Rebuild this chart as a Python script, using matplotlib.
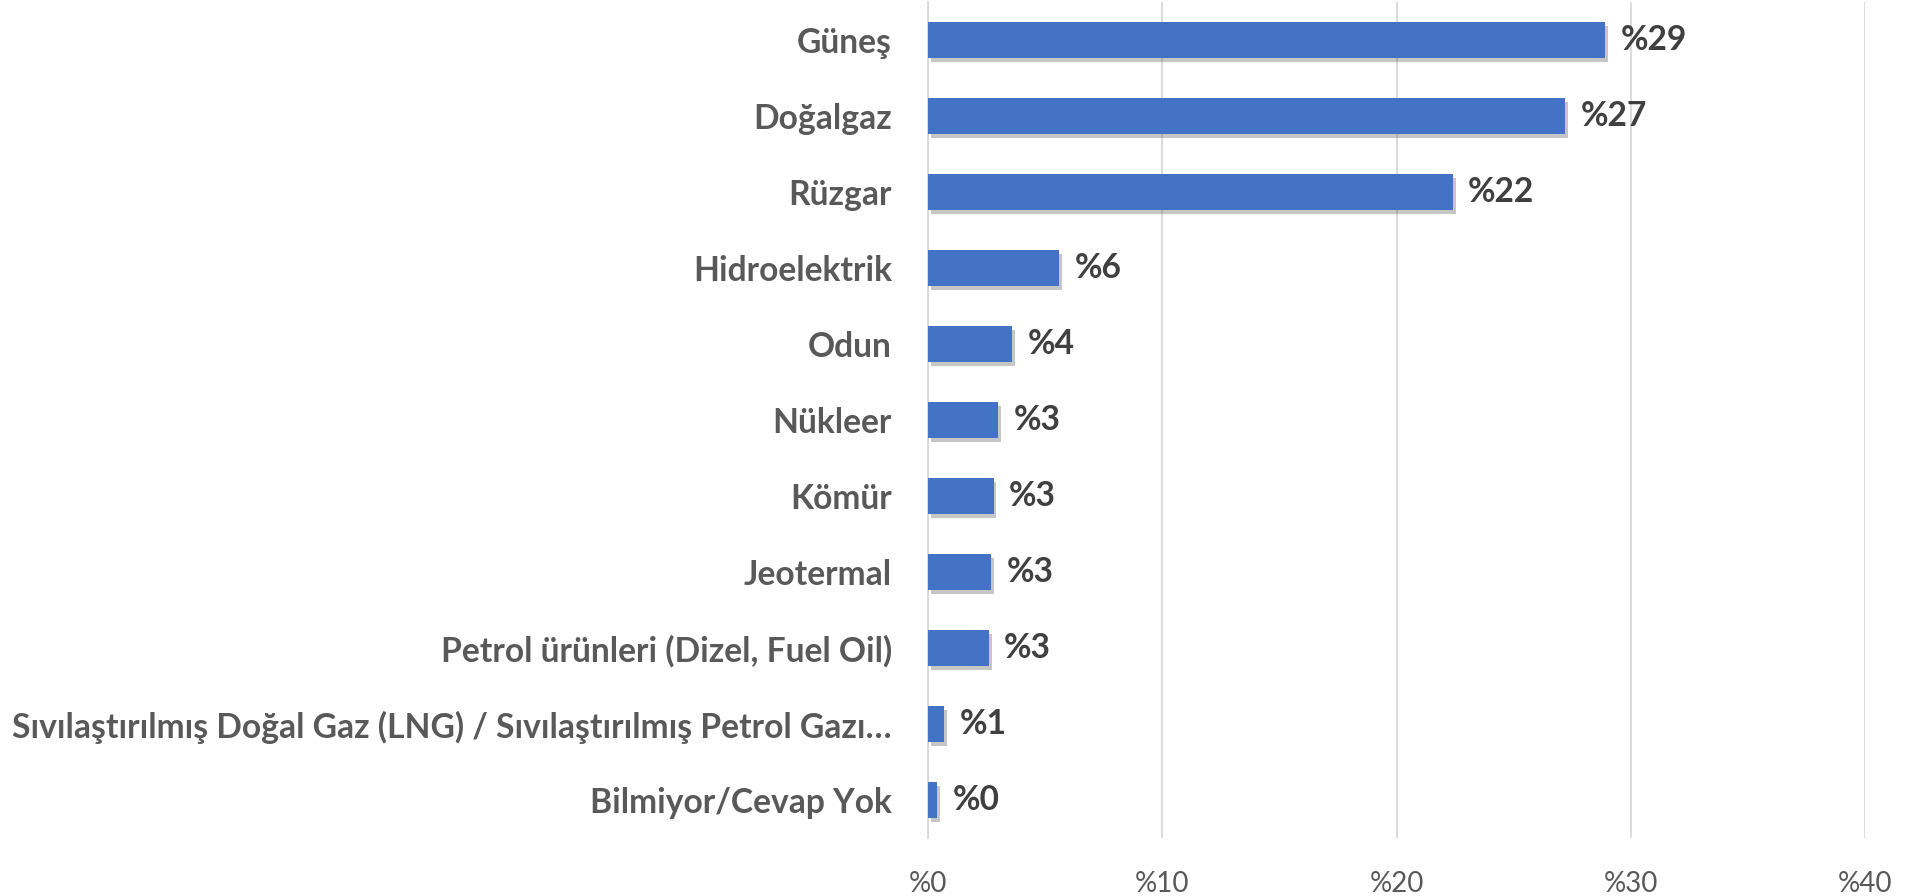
import matplotlib

matplotlib.use("Agg")
import matplotlib.pyplot as plt
import matplotlib.patheffects as pe

# Energy source shares (%), top to bottom
sources = [
    "Güneş",
    "Doğalgaz",
    "Rüzgar",
    "Hidroelektrik",
    "Odun",
    "Nükleer",
    "Kömür",
    "Jeotermal",
    "Petrol ürünleri (Dizel, Fuel Oil)",
    "Sıvılaştırılmış Doğal Gaz (LNG) / Sıvılaştırılmış Petrol Gazı…",
    "Bilmiyor/Cevap Yok",
]
shares = [28.9, 27.2, 22.4, 5.6, 3.6, 3.0, 2.8, 2.7, 2.6, 0.7, 0.4]
xticks = [0, 10, 20, 30, 40]

BAR = "#4472C4"
GRID = "#D9D9D9"
TEXT = "#595959"
LABEL = "#404040"

plt.rcParams["font.family"] = ["Lato", "DejaVu Sans"]

fig = plt.figure(figsize=(19.08, 8.96), dpi=100)
ax = fig.add_axes([0.4864, 0.0647, 0.4911, 0.9333])

y = list(range(len(sources)))
bars = ax.barh(y, shares, height=0.47, color=BAR, zorder=3)
for b in bars:
    b.set_path_effects([pe.SimplePatchShadow(offset=(2, -3), alpha=0.3, shadow_rgbFace="#444444"),
                        pe.Normal()])

ax.set_ylim(len(sources) - 0.5, -0.5)
ax.set_xlim(0, 40)
ax.set_xticks(xticks)
ax.set_xticklabels([f"%{t}" for t in xticks], fontsize=20, color=TEXT)
ax.set_yticks(y)
ax.set_yticklabels(sources, fontsize=20, fontweight="bold", color=TEXT)
ax.tick_params(axis="both", length=0)
ax.tick_params(axis="x", pad=24)
ax.tick_params(axis="y", pad=26)

# shrink the category labels so the longest one fits the left margin
renderer = fig.canvas.get_renderer()
widest = max(t.get_window_extent(renderer).width for t in ax.get_yticklabels())
size = 20 * 877 / widest
for t in ax.get_yticklabels():
    t.set_fontsize(size)

for yi, v in zip(y, shares):
    ax.annotate(f"%{round(v):d}", (v, yi), xytext=(11, 0), textcoords="offset points",
                va="center", ha="left", fontsize=size, fontweight="bold", color=LABEL)

ax.xaxis.grid(True, color=GRID, linewidth=1.3, zorder=0)
for side in ("top", "right", "bottom"):
    ax.spines[side].set_visible(False)
ax.spines["left"].set_color(GRID)
ax.spines["left"].set_linewidth(1.3)

fig.savefig("out.png", dpi=100, facecolor="white")
